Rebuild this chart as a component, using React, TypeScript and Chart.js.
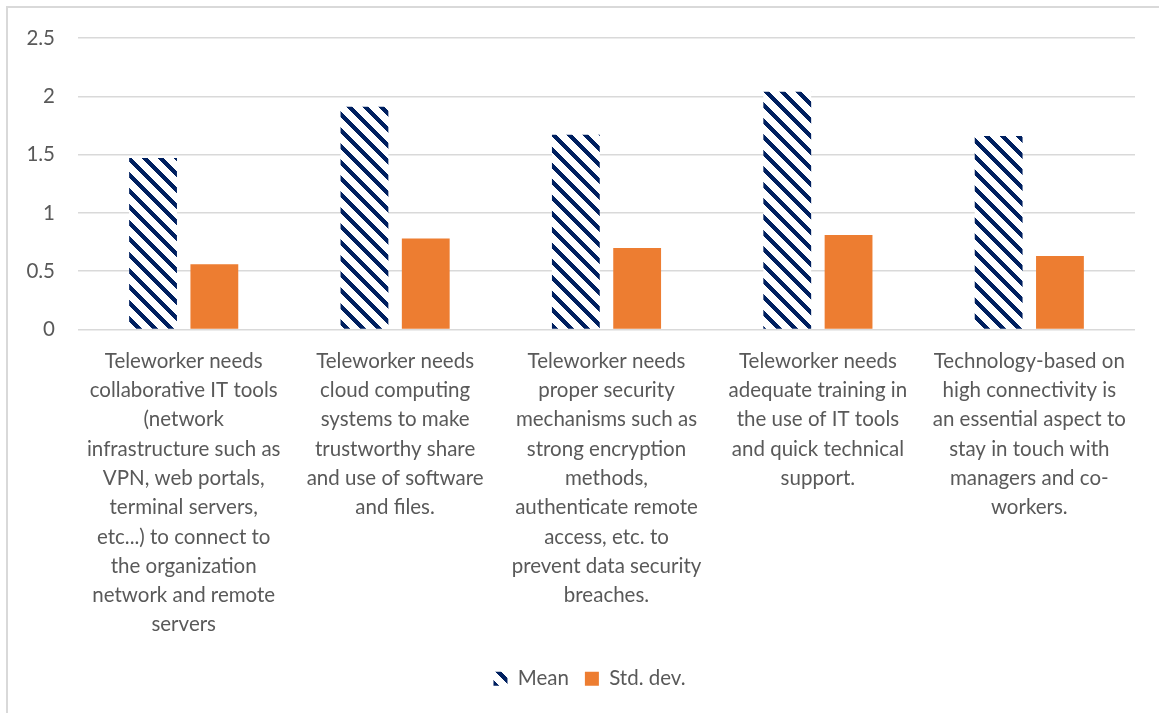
import React, { useEffect, useRef } from "react";
import { Chart, registerables } from "chart.js";

Chart.register(...registerables);

const categories: string[][] = [
  ["Teleworker needs", "collaborative IT tools", "(network", "infrastructure such as", "VPN, web portals,", "terminal servers,", "etc...) to connect to", "the organization", "network and remote", "servers"],
  ["Teleworker needs", "cloud computing", "systems to make", "trustworthy share", "and use of software", "and files."],
  ["Teleworker needs", "proper security", "mechanisms such as", "strong encryption", "methods,", "authenticate remote", "access, etc. to", "prevent data security", "breaches."],
  ["Teleworker needs", "adequate training in", "the use of IT tools", "and quick technical", "support."],
  ["Technology-based on", "high connectivity is", "an essential aspect to", "stay in touch with", "managers and co-", "workers."],
];

const meanValues = [1.47, 1.91, 1.67, 2.04, 1.66];
const stdValues = [0.56, 0.78, 0.7, 0.81, 0.63];
const yTicks = [0, 0.5, 1, 1.5, 2, 2.5];

const FONT = "Lato, 'Noto Sans', sans-serif";
const TEXT = "#595959";

function makePattern(): CanvasPattern | string {
  const size = 16;
  const c = document.createElement("canvas");
  c.width = size;
  c.height = size;
  const ctx = c.getContext("2d");
  if (!ctx) return "#002060";
  const img = ctx.createImageData(size, size);
  for (let y = 0; y < size; y++) {
    for (let x = 0; x < size; x++) {
      const k = (((x - y) % size) + size) % size;
      const dark = k < 6;
      const i = (y * size + x) * 4;
      if (dark) {
        img.data[i] = 0; img.data[i + 1] = 32; img.data[i + 2] = 96;
      } else {
        img.data[i] = 255; img.data[i + 1] = 255; img.data[i + 2] = 255;
      }
      img.data[i + 3] = 255;
    }
  }
  ctx.putImageData(img, 0, 0);
  const p = ctx.createPattern(c, "repeat");
  return p || "#002060";
}

const legendShift = {
  id: "legendShift",
  afterLayout(chart: any) {
    const lg = chart.legend;
    if (lg) {
      lg.left += 22;
      lg.right += 22;
    }
  },
};

export default function App() {
  const ref = useRef<HTMLCanvasElement | null>(null);
  useEffect(() => {
    if (!ref.current) return;
    const pattern = makePattern();
    const chart = new Chart(ref.current, {
      type: "bar",
      data: {
        labels: categories,
        datasets: [
          {
            label: "Mean",
            data: meanValues,
            backgroundColor: pattern as any,
            borderWidth: 0,
            barPercentage: 0.78,
            categoryPercentage: 0.58,
          },
          {
            label: "Std. dev.",
            data: stdValues,
            backgroundColor: "#ED7D31",
            borderWidth: 0,
            barPercentage: 0.78,
            categoryPercentage: 0.58,
          },
        ],
      },
      plugins: [legendShift],
      options: {
        animation: false,
        responsive: true,
        maintainAspectRatio: false,
        layout: { padding: { top: 38, right: 24, left: 0, bottom: 14 } },
        plugins: {
          legend: {
            position: "bottom",
            labels: {
              boxWidth: 14,
              boxHeight: 14,
              padding: 16,
              color: TEXT,
              font: { family: FONT, size: 20.5 },
            },
          },
          tooltip: { enabled: false },
        },
        scales: {
          x: {
            grid: { display: false, drawTicks: false },
            border: { display: false },
            ticks: {
              color: TEXT,
              font: { family: FONT, size: 20.5, lineHeight: "29.3px" as any },
              maxRotation: 0,
              minRotation: 0,
              autoSkip: false,
              padding: 17,
            },
            afterFit: (s: any) => {
              s.height = 323;
            },
          },
          y: {
            min: 0,
            max: 2.5,
            afterBuildTicks: (s: any) => {
              s.ticks = yTicks.map((v) => ({ value: v }));
            },
            grid: { color: "#d9d9d9", lineWidth: 1.5, drawTicks: false },
            border: { display: false },
            ticks: {
              color: TEXT,
              font: { family: FONT, size: 20.5 },
              padding: 23,
              callback: (v: any) => String(v),
            },
            afterFit: (s: any) => {
              s.width = 78;
            },
          },
        },
      },
    });
    return () => chart.destroy();
  }, []);

  return (
    <div style={{ position: "fixed", left: 0, top: 0, width: 1159, height: 713, background: "#fff" }}>
      <div
        style={{
          position: "absolute",
          left: 6,
          top: 6,
          width: 1200,
          height: 800,
          borderLeft: "2px solid #d9d9d9",
          borderTop: "2px solid #d9d9d9",
          boxSizing: "border-box",
        }}
      />
      <div style={{ position: "absolute", left: 0, top: 0, width: 1159, height: 713 }}>
        <canvas ref={ref} />
      </div>
    </div>
  );
}
